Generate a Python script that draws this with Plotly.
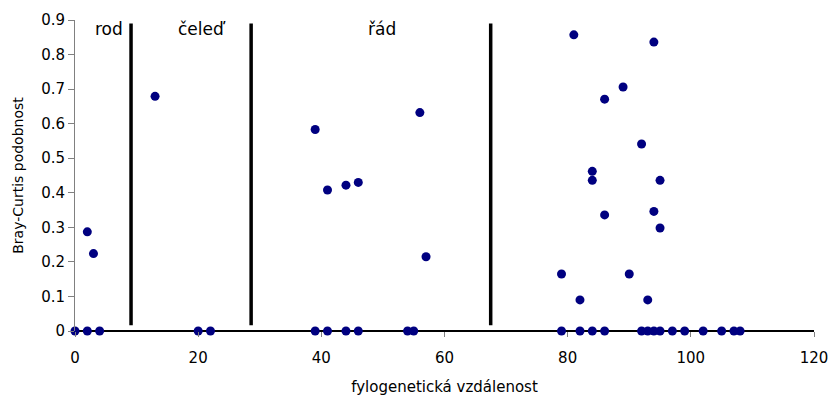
import plotly.graph_objects as go

# Data: phylogenetic distance (x) vs Bray-Curtis similarity (y)
x_vals = [0, 2, 4, 20, 22, 39, 41, 44, 46, 54, 55,
          79, 82, 84, 86, 92, 93, 94, 95, 97, 99, 102, 105, 107, 108,
          2, 3, 13, 39, 41, 44, 46, 56, 57,
          79, 81, 82, 84, 84, 86, 86, 89, 90, 92, 93, 94, 94, 95, 95]
y_vals = [0, 0, 0, 0, 0, 0, 0, 0, 0, 0, 0,
          0, 0, 0, 0, 0, 0, 0, 0, 0, 0, 0, 0, 0, 0,
          0.287, 0.224, 0.679, 0.583, 0.408, 0.422, 0.430, 0.632, 0.215,
          0.165, 0.857, 0.090, 0.462, 0.436, 0.671, 0.336, 0.706, 0.165, 0.541, 0.090, 0.836, 0.346, 0.436, 0.298]

# Taxonomic boundaries
boundaries = [9.1, 28.6, 67.5]
boundary_bottom = 0.017
boundary_top = 0.89

group_labels = ["rod", "čeleď", "řád"]
group_label_x = [5.5, 20.6, 49.8]
group_label_y = 0.875

x_ticks = [0, 20, 40, 60, 80, 100, 120]
y_ticks = [0, 0.1, 0.2, 0.3, 0.4, 0.5, 0.6, 0.7, 0.8, 0.9]
y_tick_text = ["0", "0.1", "0.2", "0.3", "0.4", "0.5", "0.6", "0.7", "0.8", "0.9"]

font = "DejaVu Sans, Verdana, sans-serif"

fig = go.Figure()

for b in boundaries:
    fig.add_trace(go.Scatter(x=[b, b], y=[boundary_bottom, boundary_top], mode="lines",
                             line=dict(color="black", width=3.5), showlegend=False,
                             hoverinfo="skip"))

fig.add_trace(go.Scatter(x=x_vals, y=y_vals, mode="markers",
                         marker=dict(color="#000080", size=9),
                         cliponaxis=False, showlegend=False))

for t, xx in zip(group_labels, group_label_x):
    fig.add_annotation(x=xx, y=group_label_y, text=t, showarrow=False,
                       font=dict(family=font, size=17, color="black"))

fig.update_layout(
    width=829, height=396,
    margin=dict(l=75, r=15, t=20, b=65, autoexpand=False),
    plot_bgcolor="white", paper_bgcolor="white",
    font=dict(family=font, size=15, color="black"),
    xaxis=dict(range=[0, 120], tickvals=x_ticks, showgrid=False, zeroline=False,
               showline=False, ticks="outside", ticklen=5, tickcolor="#808080",
               automargin=False, ticklabelstandoff=8,
               title=dict(text="fylogenetická vzdálenost", font=dict(size=15), standoff=25),
               tickfont=dict(size=15)),
    yaxis=dict(range=[0, 0.9], tickvals=y_ticks, ticktext=y_tick_text, showgrid=False,
               zeroline=True, zerolinecolor="black", zerolinewidth=1.5,
               showline=True, linecolor="#808080", linewidth=1,
               ticks="outside", ticklen=6, tickcolor="#808080", automargin=False,
               title=dict(text="Bray-Curtis podobnost", font=dict(size=14), standoff=14),
               tickfont=dict(size=15)),
)

fig.write_html("out.html")
